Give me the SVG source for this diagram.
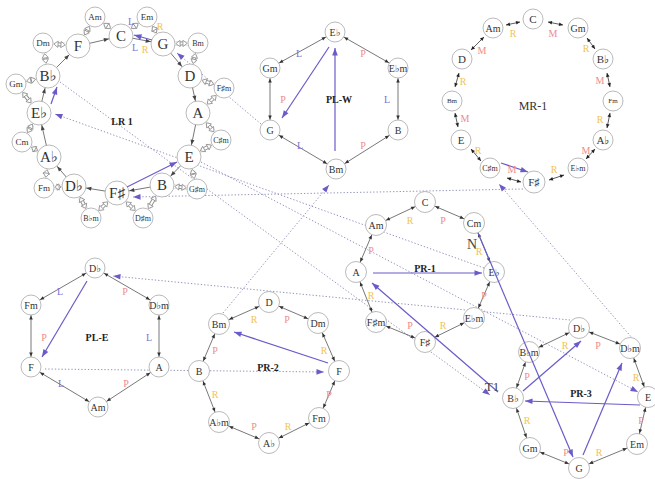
<svg xmlns="http://www.w3.org/2000/svg" width="655" height="479" viewBox="0 0 655 479">
<style>
.n circle{fill:#fff;stroke:#a8a8a8;stroke-width:.8}
.n text{font-family:"Liberation Serif","DejaVu Serif",serif;fill:#333;text-anchor:middle;dominant-baseline:central;font-size:10px}
.n.big text{font-size:15px}
.n.s9 text{font-size:9px}
.n.s8 text{font-size:8px}
.n.s7 text{font-size:7px}
.n.s11 text{font-size:11px}
.lb{font-family:"Liberation Serif","DejaVu Serif",serif;font-size:10px;text-anchor:middle;dominant-baseline:central}
.L{fill:#7d72d6}.P{fill:#ee8c8c}.R{fill:#f3c350}.M{fill:#ee8c8c}
.ttl{font-family:"Liberation Serif","DejaVu Serif",serif;font-size:10px;font-weight:bold;fill:#222;text-anchor:middle;dominant-baseline:central}
.hs{stroke:#8c8c8c;stroke-width:3.8;fill:none}
.hi{stroke:#fff;stroke-width:2;fill:none;marker-start:url(#hb12);marker-end:url(#hb10)}
.th{stroke:#555;stroke-width:.8;fill:none;marker-end:url(#k12)}
.e{stroke:#555;stroke-width:.8;fill:none;marker-start:url(#k11);marker-end:url(#k11)}
.e10{stroke:#555;stroke-width:.8;fill:none;marker-start:url(#k10);marker-end:url(#k10)}
.m{stroke:#333;stroke-width:.8;fill:none;marker-start:url(#k0);marker-end:url(#k0)}
.pu{stroke:#6a5cc8;stroke-width:1.2;fill:none;marker-end:url(#pa)}
.dta{stroke:#8f93bb;stroke-width:1;stroke-dasharray:1.3 2;fill:none;marker-end:url(#pa)}
</style>
<defs>
<marker id="hb12" overflow="visible" orient="auto-start-reverse" markerUnits="userSpaceOnUse" refX="12.8" refY="0" markerWidth="1" markerHeight="1">
<rect x="-4.3" y="-2.1" width="17" height="4.2" fill="#fff"/>
<path d="M0,0 L-4.3,-3.1 L-4.3,3.1 Z" fill="#fff" stroke="#8c8c8c" stroke-width=".8"/>
</marker>
<marker id="hb10" overflow="visible" orient="auto-start-reverse" markerUnits="userSpaceOnUse" refX="10.8" refY="0" markerWidth="1" markerHeight="1">
<rect x="-4.3" y="-2.1" width="15" height="4.2" fill="#fff"/>
<path d="M0,0 L-4.3,-3.1 L-4.3,3.1 Z" fill="#fff" stroke="#8c8c8c" stroke-width=".8"/>
</marker>
<marker id="k12" overflow="visible" orient="auto" markerUnits="userSpaceOnUse" refX="12.5" refY="0" markerWidth="1" markerHeight="1">
<path d="M0,0 L-5,-2 L-5,2 Z" fill="#444"/>
</marker>
<marker id="k11" overflow="visible" orient="auto-start-reverse" markerUnits="userSpaceOnUse" refX="11" refY="0" markerWidth="1" markerHeight="1">
<path d="M0,0 L-4,-1.8 L-4,1.8 Z" fill="#333"/>
</marker>
<marker id="k10" overflow="visible" orient="auto-start-reverse" markerUnits="userSpaceOnUse" refX="10.5" refY="0" markerWidth="1" markerHeight="1">
<path d="M0,0 L-4,-1.8 L-4,1.8 Z" fill="#333"/>
</marker>
<marker id="k0" overflow="visible" orient="auto-start-reverse" markerUnits="userSpaceOnUse" refX="0" refY="0" markerWidth="1" markerHeight="1">
<path d="M0,0 L-4,-1.8 L-4,1.8 Z" fill="#222"/>
</marker>
<marker id="pa" overflow="visible" orient="auto" markerUnits="userSpaceOnUse" refX="0" refY="0" markerWidth="1" markerHeight="1">
<path d="M0,0 L-7.5,-2.8 L-7.5,2.8 Z" fill="#6a5cc8"/>
</marker>
</defs>
<rect width="655" height="479" fill="#fff"/>

<g id="connectors">
<path class="dta" d="M261,124 L177,53"/>
<path class="dta" d="M484,268 L55,114"/>
<path class="dta" d="M523,189 L133,197"/>
<path class="dta" d="M60,82 L490,395"/>
<path class="dta" d="M201,162 L638,392"/>
<path class="dta" d="M570,320 L113,276"/>
<path class="dta" d="M633,339 L499,184"/>
<path class="dta" d="M45,369 L324,372"/>
<path class="dta" d="M223,313 L329,185"/>
<g>
<path class="hs" d="M121,36 L95,17"/><path class="hs" d="M121,36 L147,17"/>
<path class="hs" d="M163,44 L147,17"/><path class="hs" d="M163,44 L198,43"/>
<path class="hs" d="M190,76 L198,43"/><path class="hs" d="M190,76 L224,88"/>
<path class="hs" d="M198,113 L224,88"/><path class="hs" d="M198,113 L221,140"/>
<path class="hs" d="M189,157 L221,140"/><path class="hs" d="M189,157 L197,189"/>
<path class="hs" d="M162,185 L197,189"/><path class="hs" d="M162,185 L143,218"/>
<path class="hs" d="M117,193 L143,218"/><path class="hs" d="M117,193 L91,218"/>
<path class="hs" d="M74,186 L91,218"/><path class="hs" d="M74,186 L44,188"/>
<path class="hs" d="M49,157 L44,188"/><path class="hs" d="M49,157 L22,142"/>
<path class="hs" d="M39,113 L22,142"/><path class="hs" d="M39,113 L16,84"/>
<path class="hs" d="M48,76 L16,84"/><path class="hs" d="M48,76 L43,43"/>
<path class="hs" d="M78,46 L43,43"/><path class="hs" d="M78,46 L95,17"/>
</g>
<g>
<path class="hi" d="M121,36 L95,17"/><path class="hi" d="M121,36 L147,17"/>
<path class="hi" d="M163,44 L147,17"/><path class="hi" d="M163,44 L198,43"/>
<path class="hi" d="M190,76 L198,43"/><path class="hi" d="M190,76 L224,88"/>
<path class="hi" d="M198,113 L224,88"/><path class="hi" d="M198,113 L221,140"/>
<path class="hi" d="M189,157 L221,140"/><path class="hi" d="M189,157 L197,189"/>
<path class="hi" d="M162,185 L197,189"/><path class="hi" d="M162,185 L143,218"/>
<path class="hi" d="M117,193 L143,218"/><path class="hi" d="M117,193 L91,218"/>
<path class="hi" d="M74,186 L91,218"/><path class="hi" d="M74,186 L44,188"/>
<path class="hi" d="M49,157 L44,188"/><path class="hi" d="M49,157 L22,142"/>
<path class="hi" d="M39,113 L22,142"/><path class="hi" d="M39,113 L16,84"/>
<path class="hi" d="M48,76 L16,84"/><path class="hi" d="M48,76 L43,43"/>
<path class="hi" d="M78,46 L43,43"/><path class="hi" d="M78,46 L95,17"/>
</g>
<path class="th" d="M121,36 L163,44"/>
<path class="th" d="M163,44 L190,76"/>
<path class="th" d="M190,76 L198,113"/>
<path class="th" d="M198,113 L189,157"/>
<path class="th" d="M189,157 L162,185"/>
<path class="th" d="M162,185 L117,193"/>
<path class="th" d="M117,193 L74,186"/>
<path class="th" d="M74,186 L49,157"/>
<path class="th" d="M49,157 L39,113"/>
<path class="th" d="M39,113 L48,76"/>
<path class="th" d="M48,76 L78,46"/>
<path class="th" d="M78,46 L121,36"/>
<path class="e10" d="M335,32 L270,68"/><path class="e10" d="M335,32 L398,68"/>
<path class="e10" d="M270,68 L270,130"/><path class="e10" d="M398,68 L398,130"/>
<path class="e10" d="M270,130 L336,169"/><path class="e10" d="M398,130 L336,169"/>
<path class="e10" d="M95,268 L31,305"/><path class="e10" d="M95,268 L159,305"/>
<path class="e10" d="M31,305 L31,367"/><path class="e10" d="M159,305 L159,367"/>
<path class="e10" d="M31,367 L98,407"/><path class="e10" d="M159,367 L98,407"/>
<path class="e" d="M376,225 L425,202"/><path class="e" d="M425,202 L474,223"/>
<path class="e" d="M474,223 L494,272"/><path class="e" d="M494,272 L474,318"/>
<path class="e" d="M474,318 L425,342"/><path class="e" d="M425,342 L376,322"/>
<path class="e" d="M376,322 L356,272"/><path class="e" d="M356,272 L376,225"/>
<path class="e" d="M219,324 L269,302"/><path class="e" d="M269,302 L318,323"/>
<path class="e" d="M318,323 L339,371"/><path class="e" d="M339,371 L319,418"/>
<path class="e" d="M319,418 L269,443"/><path class="e" d="M269,443 L219,422"/>
<path class="e" d="M219,422 L199,371"/><path class="e" d="M199,371 L219,324"/>
<path class="e" d="M529,352 L579,328"/><path class="e" d="M579,328 L630,348"/>
<path class="e" d="M630,348 L648,397"/><path class="e" d="M648,397 L637,444"/>
<path class="e" d="M637,444 L579,468"/><path class="e" d="M579,468 L530,448"/>
<path class="e" d="M530,448 L513,398"/><path class="e" d="M513,398 L529,352"/>
<path class="m" d="M506,25 L520,22"/>
<path class="m" d="M548,22 L563,25"/>
<path class="m" d="M587,38 L595,49"/>
<path class="m" d="M607,73 L610,87"/>
<path class="m" d="M610,113 L607,128"/>
<path class="m" d="M595,149 L586,159"/>
<path class="m" d="M564,175 L549,180"/>
<path class="m" d="M521,182 L507,178"/>
<path class="m" d="M481,161 L471,149"/>
<path class="m" d="M458,127 L455,113"/>
<path class="m" d="M455,87 L459,73"/>
<path class="m" d="M471,50 L484,37"/>
</g>

<g id="lr1-C" class="n big"><circle cx="121" cy="36" r="12"/><text x="121" y="36">C</text></g>
<g id="lr1-G" class="n big"><circle cx="163" cy="44" r="12"/><text x="163" y="44">G</text></g>
<g id="lr1-D" class="n big"><circle cx="190" cy="76" r="12"/><text x="190" y="76">D</text></g>
<g id="lr1-A" class="n big"><circle cx="198" cy="113" r="12"/><text x="198" y="113">A</text></g>
<g id="lr1-E" class="n big"><circle cx="189" cy="157" r="12"/><text x="189" y="157">E</text></g>
<g id="lr1-B" class="n big"><circle cx="162" cy="185" r="12"/><text x="162" y="185">B</text></g>
<g id="lr1-Fs" class="n big"><circle cx="117" cy="193" r="12"/><text x="117" y="193">F♯</text></g>
<g id="lr1-Db" class="n big"><circle cx="74" cy="186" r="12"/><text x="74" y="186">D♭</text></g>
<g id="lr1-Ab" class="n big"><circle cx="49" cy="157" r="12"/><text x="49" y="157">A♭</text></g>
<g id="lr1-Eb" class="n big"><circle cx="39" cy="113" r="12"/><text x="39" y="113">E♭</text></g>
<g id="lr1-Bb" class="n big"><circle cx="48" cy="76" r="12"/><text x="48" y="76">B♭</text></g>
<g id="lr1-F" class="n big"><circle cx="78" cy="46" r="12"/><text x="78" y="46">F</text></g>
<g id="lr1-Em" class="n s9"><circle cx="147" cy="17" r="10"/><text x="147" y="17">Em</text></g>
<g id="lr1-Bm" class="n s8"><circle cx="198" cy="43" r="10"/><text x="198" y="43">Bm</text></g>
<g id="lr1-Fsm" class="n s8"><circle cx="224" cy="88" r="10"/><text x="224" y="88">F♯m</text></g>
<g id="lr1-Csm" class="n s8"><circle cx="221" cy="140" r="10"/><text x="221" y="140">C♯m</text></g>
<g id="lr1-Gsm" class="n s8"><circle cx="197" cy="189" r="10"/><text x="197" y="189">G♯m</text></g>
<g id="lr1-Dsm" class="n s8"><circle cx="143" cy="218" r="10"/><text x="143" y="218">D♯m</text></g>
<g id="lr1-Bbm" class="n s8"><circle cx="91" cy="218" r="10"/><text x="91" y="218">B♭m</text></g>
<g id="lr1-Fm" class="n s9"><circle cx="44" cy="188" r="10"/><text x="44" y="188">Fm</text></g>
<g id="lr1-Cm" class="n s9"><circle cx="22" cy="142" r="10"/><text x="22" y="142">Cm</text></g>
<g id="lr1-Gm" class="n s9"><circle cx="16" cy="84" r="10"/><text x="16" y="84">Gm</text></g>
<g id="lr1-Dm" class="n s9"><circle cx="43" cy="43" r="10"/><text x="43" y="43">Dm</text></g>
<g id="lr1-Am" class="n s9"><circle cx="95" cy="17" r="10"/><text x="95" y="17">Am</text></g>

<g id="plw-Eb" class="n"><circle cx="335" cy="32" r="10"/><text x="335" y="32">E♭</text></g>
<g id="plw-Gm" class="n"><circle cx="270" cy="68" r="10"/><text x="270" y="68">Gm</text></g>
<g id="plw-Ebm" class="n"><circle cx="398" cy="68" r="10"/><text x="398" y="68">E♭m</text></g>
<g id="plw-G" class="n"><circle cx="270" cy="130" r="10"/><text x="270" y="130">G</text></g>
<g id="plw-B" class="n"><circle cx="398" cy="130" r="10"/><text x="398" y="130">B</text></g>
<g id="plw-Bm" class="n"><circle cx="336" cy="169" r="10"/><text x="336" y="169">Bm</text></g>

<g id="ple-Db" class="n"><circle cx="95" cy="268" r="10"/><text x="95" y="268">D♭</text></g>
<g id="ple-Fm" class="n"><circle cx="31" cy="305" r="10"/><text x="31" y="305">Fm</text></g>
<g id="ple-Dbm" class="n"><circle cx="159" cy="305" r="10"/><text x="159" y="305">D♭m</text></g>
<g id="ple-F" class="n"><circle cx="31" cy="367" r="10"/><text x="31" y="367">F</text></g>
<g id="ple-A" class="n"><circle cx="159" cy="367" r="10"/><text x="159" y="367">A</text></g>
<g id="ple-Am" class="n"><circle cx="98" cy="407" r="10"/><text x="98" y="407">Am</text></g>

<g id="mr-C" class="n s11"><circle cx="533" cy="19" r="10"/><text x="533" y="19">C</text></g>
<g id="mr-Gm" class="n"><circle cx="578" cy="28" r="10"/><text x="578" y="28">Gm</text></g>
<g id="mr-Bb" class="n s11"><circle cx="603" cy="59" r="10"/><text x="603" y="59">B♭</text></g>
<g id="mr-Fm" class="n s7"><circle cx="613" cy="101" r="10"/><text x="613" y="101">Fm</text></g>
<g id="mr-Ab" class="n s11"><circle cx="603" cy="140" r="10"/><text x="603" y="140">A♭</text></g>
<g id="mr-Ebm" class="n s8"><circle cx="578" cy="168" r="10"/><text x="578" y="168">E♭m</text></g>
<g id="mr-Fs" class="n s11"><circle cx="534" cy="182" r="11"/><text x="534" y="182">F♯</text></g>
<g id="mr-Csm" class="n s8"><circle cx="490" cy="168" r="10"/><text x="490" y="168">C♯m</text></g>
<g id="mr-E" class="n s11"><circle cx="461" cy="140" r="10"/><text x="461" y="140">E</text></g>
<g id="mr-Bm" class="n s7"><circle cx="452" cy="101" r="10"/><text x="452" y="101">Bm</text></g>
<g id="mr-D" class="n s11"><circle cx="462" cy="59" r="10"/><text x="462" y="59">D</text></g>
<g id="mr-Am" class="n"><circle cx="493" cy="28" r="10"/><text x="493" y="28">Am</text></g>

<g id="pr1-C" class="n"><circle cx="425" cy="202" r="10.5"/><text x="425" y="202">C</text></g>
<g id="pr1-Cm" class="n"><circle cx="474" cy="223" r="10.5"/><text x="474" y="223">Cm</text></g>
<g id="pr1-Eb" class="n"><circle cx="494" cy="272" r="10.5"/><text x="494" y="272">E♭</text></g>
<g id="pr1-Ebm" class="n"><circle cx="474" cy="318" r="10.5"/><text x="474" y="318">E♭m</text></g>
<g id="pr1-Fs" class="n"><circle cx="425" cy="342" r="10.5"/><text x="425" y="342">F♯</text></g>
<g id="pr1-Fsm" class="n"><circle cx="376" cy="322" r="10.5"/><text x="376" y="322">F♯m</text></g>
<g id="pr1-A" class="n"><circle cx="356" cy="272" r="10.5"/><text x="356" y="272">A</text></g>
<g id="pr1-Am" class="n"><circle cx="376" cy="225" r="10.5"/><text x="376" y="225">Am</text></g>

<g id="pr2-D" class="n"><circle cx="269" cy="302" r="10.5"/><text x="269" y="302">D</text></g>
<g id="pr2-Dm" class="n"><circle cx="318" cy="323" r="10.5"/><text x="318" y="323">Dm</text></g>
<g id="pr2-F" class="n"><circle cx="339" cy="371" r="10.5"/><text x="339" y="371">F</text></g>
<g id="pr2-Fm" class="n"><circle cx="319" cy="418" r="10.5"/><text x="319" y="418">Fm</text></g>
<g id="pr2-Ab" class="n"><circle cx="269" cy="443" r="10.5"/><text x="269" y="443">A♭</text></g>
<g id="pr2-Abm" class="n"><circle cx="219" cy="422" r="10.5"/><text x="219" y="422">A♭m</text></g>
<g id="pr2-B" class="n"><circle cx="199" cy="371" r="10.5"/><text x="199" y="371">B</text></g>
<g id="pr2-Bm" class="n"><circle cx="219" cy="324" r="10.5"/><text x="219" y="324">Bm</text></g>

<g id="pr3-Db" class="n"><circle cx="579" cy="328" r="10.5"/><text x="579" y="328">D♭</text></g>
<g id="pr3-Dbm" class="n"><circle cx="630" cy="348" r="10.5"/><text x="630" y="348">D♭m</text></g>
<g id="pr3-E" class="n"><circle cx="648" cy="397" r="10.5"/><text x="648" y="397">E</text></g>
<g id="pr3-Em" class="n"><circle cx="637" cy="444" r="10.5"/><text x="637" y="444">Em</text></g>
<g id="pr3-G" class="n"><circle cx="579" cy="468" r="10.5"/><text x="579" y="468">G</text></g>
<g id="pr3-Gm" class="n"><circle cx="530" cy="448" r="10.5"/><text x="530" y="448">Gm</text></g>
<g id="pr3-Bb" class="n"><circle cx="513" cy="398" r="10.5"/><text x="513" y="398">B♭</text></g>
<g id="pr3-Bbm" class="n"><circle cx="529" cy="352" r="10.5"/><text x="529" y="352">B♭m</text></g>

<g id="transforms">
<path class="pu" d="M152,40 L134,35"/>
<path class="pu" d="M51,104 L57,87"/>
<path class="pu" d="M127,187 L177,162"/>
<path class="pu" d="M329,47 L282,118"/>
<path class="pu" d="M335,151 L335,48"/>
<path class="pu" d="M501,163 L528,172"/>
<path class="pu" d="M373,273 L482,273"/>
<path class="pu" d="M478,233 L573,457"/>
<path class="pu" d="M498,392 L372,283"/>
<path class="pu" d="M87,281 L42,357"/>
<path class="pu" d="M328,363 L234,332"/>
<path class="pu" d="M523,391 L581,341"/>
<path class="pu" d="M583,455 L622,363"/>
<path class="pu" d="M640,405 L525,401"/>
</g>

<g id="labels">
<text class="ttl" x="122" y="121">LR 1</text>
<text class="ttl" x="339" y="99">PL-W</text>
<text class="ttl" x="97" y="337">PL-E</text>
<text class="ttl" x="425" y="268">PR-1</text>
<text class="ttl" x="268" y="367">PR-2</text>
<text class="ttl" x="581" y="393">PR-3</text>
<text class="lb" x="533" y="106" style="font-size:12px;fill:#333">MR-1</text>
<text class="lb" x="472" y="244" style="font-size:14px;fill:#444">N</text>
<text class="lb" x="492" y="386" style="font-size:13px;fill:#444">T1</text>
<text class="lb L" x="131" y="21">L</text><text class="lb R" x="160" y="26">R</text>
<text class="lb L" x="135" y="47">L</text><text class="lb R" x="145" y="49">R</text>
<text class="lb L" x="299" y="53">L</text><text class="lb P" x="363" y="53">P</text>
<text class="lb P" x="283" y="99">P</text><text class="lb L" x="387" y="99">L</text>
<text class="lb L" x="300" y="145">L</text><text class="lb P" x="363" y="145">P</text>
<text class="lb L" x="60" y="291">L</text><text class="lb P" x="125" y="291">P</text>
<text class="lb P" x="44" y="337">P</text><text class="lb L" x="149" y="337">L</text>
<text class="lb L" x="61" y="383">L</text><text class="lb P" x="126" y="383">P</text>
<text class="lb R" x="513" y="33">R</text><text class="lb M" x="553" y="33">M</text>
<text class="lb R" x="586" y="48">R</text><text class="lb M" x="600" y="80">M</text>
<text class="lb R" x="600" y="119">R</text><text class="lb M" x="586" y="150">M</text>
<text class="lb R" x="554" y="169">R</text><text class="lb M" x="512" y="169">M</text>
<text class="lb R" x="478" y="150">R</text><text class="lb M" x="465" y="118">M</text>
<text class="lb R" x="463" y="81">R</text><text class="lb M" x="482" y="50">M</text>
<text class="lb R" x="410" y="220">R</text><text class="lb P" x="443" y="220">P</text>
<text class="lb R" x="479" y="251">R</text><text class="lb P" x="484" y="295">P</text>
<text class="lb R" x="443" y="325">R</text><text class="lb P" x="410" y="325">P</text>
<text class="lb R" x="371" y="295">R</text><text class="lb P" x="371" y="250">P</text>
<text class="lb R" x="254" y="319">R</text><text class="lb P" x="287" y="319">P</text>
<text class="lb R" x="324" y="350">R</text><text class="lb P" x="329" y="394">P</text>
<text class="lb R" x="288" y="426">R</text><text class="lb P" x="254" y="426">P</text>
<text class="lb R" x="215" y="394">R</text><text class="lb P" x="215" y="350">P</text>
<text class="lb R" x="565" y="345">R</text><text class="lb P" x="598" y="345">P</text>
<text class="lb R" x="636" y="377">R</text><text class="lb P" x="641" y="420">P</text>
<text class="lb R" x="599" y="452">R</text><text class="lb P" x="566" y="452">P</text>
<text class="lb R" x="527" y="420">R</text><text class="lb P" x="527" y="376">P</text>
</g>
</svg>
